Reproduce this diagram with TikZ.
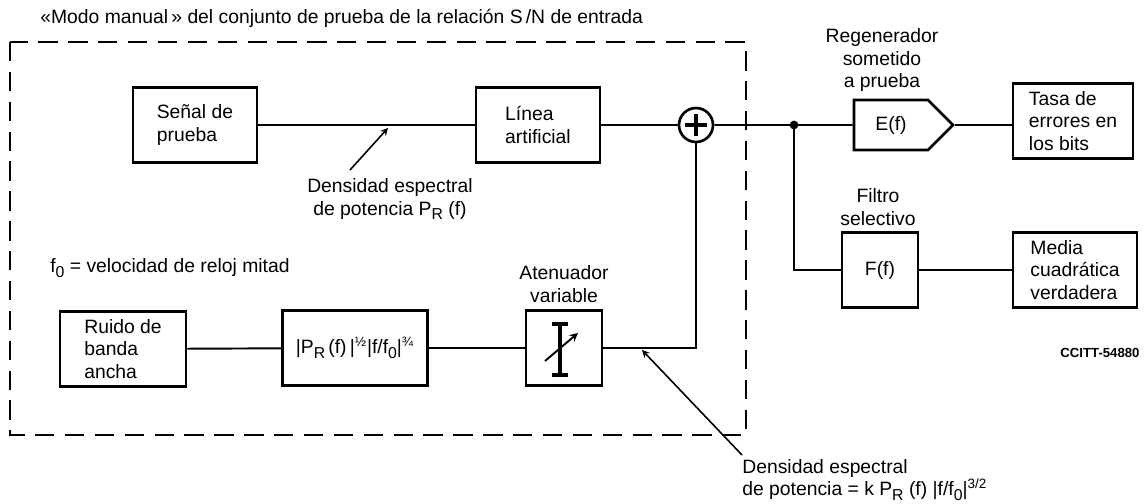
\documentclass[tikz,border=0pt]{standalone}
\usepackage{fontspec}
\setmainfont{Liberation Sans}
\usetikzlibrary{arrows, shapes}
\newcommand{\lowr}[1]{\raisebox{-0.45ex}{\fontsize{9}{9}\selectfont #1}}
\tikzset{
    block/.style = {
      draw,
      line width=1.5pt,
      minimum width=2.48cm,
      minimum height=1.5cm,
      align=left,
      inner sep=2pt,
    },
    caption/.style = {
      align=center,
      inner sep=0pt,
    },
    sum/.style = {
      circle,
      draw,
      line width=1.5pt,
      minimum size=0.68cm,
      inner sep=0pt,
      path picture={
        \draw[line width=1.8pt] ([yshift=-3.5pt]path picture bounding box.north) -- ([yshift=3.5pt]path picture bounding box.south)
          ([xshift=3.5pt]path picture bounding box.west) -- ([xshift=-3.5pt]path picture bounding box.east);
      },
    },
    wire/.style = {
      line width=1.1pt
    },
    frame/.style = {
      dash pattern=on 11pt off 6pt,
      line width=1pt
    },
    -->/.style = {
      -stealth,
      line width=0.9pt
    },
}
\begin{document}
\begin{tikzpicture}[x=0.02cm, y=-0.02cm, font=\fontsize{11}{13}\selectfont]
    \useasboundingbox (0,0) rectangle (1144,504);

    \node[anchor=west, inner sep=0pt] (TITLE) at (40,18) {«Modo manual\,» del conjunto de prueba de la relación S\,/N de entrada};
    \draw[frame] (10,42) rectangle (746,435);

    % blocks
    \node[block] (SENAL) at (195,125) {Señal de\\prueba};
    \node[block] (LINEA) at (538,125) {Línea\\artificial};
    \node[sum] (SUM) at (696,125) {};
    \node[block, minimum width=2.52cm] (RUIDO) at (123,349) {Ruido de\\banda\\ancha};
    \node[block, minimum width=2.9cm, align=center] (SHAPE) at (355,348) {|P\lowr{R}\,(f)\,|\textsuperscript{½}|f/f\lowr{0}|\textsuperscript{¾}};
    \node[block, minimum width=1.52cm] (ATEN) at (564,348) {};
    \node[signal, signal to=east, signal pointer angle=90, draw, line width=1.5pt, minimum width=1.98cm, minimum height=1cm] (REG) at (891,125) {E(f)};
    \node[block, minimum width=2.4cm] (TASA) at (1073,121) {Tasa de\\errores en\\los bits};
    \node[block, minimum width=1.52cm, align=center] (FILT) at (880,270) {F(f)};
    \node[block] (MEDIA) at (1075,270) {Media\\cuadrática\\verdadera};

    % labels
    \node[caption] (REGTXT) at (882,60) {Regenerador\\sometido\\a prueba};
    \node[caption] (FILTTXT) at (878,207) {Filtro\\selectivo};
    \node[caption] (ATENTXT) at (564,284) {Atenuador\\variable};
    \node[anchor=west, inner sep=0pt] (CLOCK) at (50,268) {f\lowr{0} = velocidad de reloj mitad};
    \node[caption] (DENS1) at (390,199) {Densidad espectral\\de potencia P\lowr{R}~(f)};
    \node[caption, align=left, anchor=north west, font=\fontsize{11}{11.5}\selectfont] (DENS2) at (742,459) {Densidad espectral\\de potencia = k P\lowr{R} (f) |f/f\lowr{0}|\textsuperscript{3/2}};
    \node[font=\fontsize{7.5}{9}\selectfont\bfseries] (CODE) at (1100,353) {CCITT-54880};

    % wires
    \coordinate (SPLIT) at (794,125);
    \draw[wire] (SENAL) -- (LINEA);
    \draw[wire] (LINEA) -- (SUM);
    \draw[wire] (SUM) -- (SPLIT) -- (REG);
    \draw[wire] (REG.east) -- (REG.east -| TASA.west);
    \draw[wire] (SPLIT) |- (FILT);
    \draw[wire] (FILT) -- (MEDIA);
    \draw[wire] (RUIDO) -- (SHAPE);
    \draw[wire] (SHAPE) -- (ATEN);
    \draw[wire] (ATEN) -| (SUM);
    \fill (SPLIT) circle (2.5pt);

    % attenuator symbol
    \begin{scope}[shift={(ATEN.center)}]
      \draw[line width=2pt] (-4,-24) -- (-4,27) (-12,-24) -- (4,-24) (-12,27) -- (4,27);
      \draw[-->, line width=1.1pt] (-19,13) -- (14,-15);
    \end{scope}

    % pointers
    \coordinate (TAIL1) at (350,170);
    \coordinate (TIP1) at (388,128);
    \draw[-->] (TAIL1) -- (TIP1);
    \coordinate (TAIL2) at (742,455);
    \coordinate (TIP2) at (642,350);
    \draw[-->] (TAIL2) -- (TIP2);
\end{tikzpicture}
\end{document}
